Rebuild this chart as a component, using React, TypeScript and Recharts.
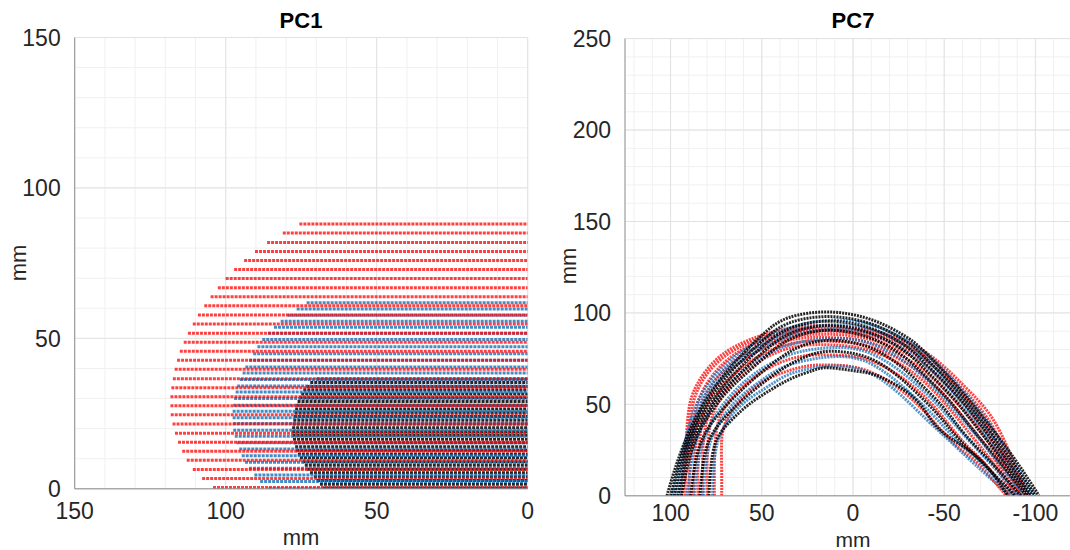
import React from "react";
import { LineChart, Line, XAxis, YAxis, CartesianGrid, ReferenceLine } from "recharts";

// PC1: each row is a slice at height y (mm) running from x = 0 out to its left end (mm)
const pc1RedY = [0.4, 3.4, 6.4, 9.5, 12.5, 15.5, 18.5, 21.5, 24.6, 27.6, 30.6, 33.6, 36.6, 39.7, 42.7, 45.7, 48.7, 51.7, 54.8, 57.8, 60.8, 63.8, 66.8, 69.9, 72.9, 75.9, 78.9, 81.9, 85.0, 88.0];
const pc1RedEnd = [104.2, 107.8, 110.9, 112.9, 114.4, 115.8, 116.8, 117.6, 118.2, 118.3, 118.3, 118.0, 117.5, 116.9, 116.1, 115.2, 113.9, 112.5, 110.9, 109.2, 107.1, 105.0, 102.6, 100.0, 97.2, 93.9, 90.3, 86.3, 81.1, 75.6];

const pc1BlueY = [0, 2.4, 4.6, 6.8, 8.8, 11.0, 13.2, 15.3, 17.5, 19.5, 21.7, 23.6, 25.8, 27.8, 30.0, 32.2, 34.2, 36.3, 38.5, 40.5, 42.7, 44.9, 47.2, 49.6, 51.7, 53.7, 55.7, 57.7, 59.8, 61.8];
const pc1BlueEnd = [85.9, 88.6, 90.5, 92.3, 93.6, 94.7, 95.5, 96.4, 97.0, 97.5, 97.5, 97.7, 97.7, 97.5, 97.2, 96.7, 96.2, 95.3, 94.4, 93.5, 92.2, 90.9, 89.5, 87.9, 85.9, 84.0, 81.8, 79.5, 76.5, 73.2];

const pc1BlackY = [0.3, 1.5, 2.8, 4.0, 5.3, 6.5, 7.8, 9.0, 10.3, 11.5, 12.8, 14.0, 15.3, 16.5, 17.8, 19.0, 20.3, 21.5, 22.8, 24.0, 25.3, 26.5, 27.8, 29.0, 30.3, 31.5, 32.8, 34.0, 35.3, 36.5];
const pc1BlackEnd = [67.7, 68.8, 69.8, 70.8, 72.1, 73.0, 73.8, 74.6, 75.4, 76.1, 76.7, 77.0, 77.4, 77.7, 77.9, 78.0, 78.0, 77.8, 77.6, 77.4, 77.2, 77.0, 76.6, 76.2, 75.6, 75.0, 74.3, 73.3, 72.0, 69.9];

// PC7: arch outlines, outer to inner, [x, y] in mm
const pc7Red: [number, number][][] = [
  [[94, 0], [93, 15], [91.5, 30], [89.5, 50], [83, 65], [72, 77], [55, 86], [33, 92], [12, 93], [-12, 90], [-39, 79], [-60, 61], [-76, 43], [-87, 21], [-96, 0]],
  [[92, 0], [91.5, 15], [90, 30], [88, 49], [81.5, 64.5], [70, 76.5], [53.5, 85], [32.5, 90.5], [12, 91.5], [-11.5, 88.5], [-38, 77.5], [-58.5, 60], [-74, 42], [-85, 21], [-94.5, 0]],
  [[90, 0], [89.5, 15], [88, 30], [86, 48], [79, 63], [68, 75], [52, 84], [32, 89], [12, 90], [-11, 87], [-37, 76], [-57, 59], [-72, 41], [-83, 21], [-93, 0]],
  [[87.5, 0], [87, 15], [86, 30], [84, 47], [76.5, 62], [65.5, 73.5], [50, 82.5], [31, 87.5], [12, 88.3], [-10.5, 85.3], [-35.5, 74], [-55, 57], [-70, 39.5], [-81.5, 20.5], [-92, 0]],
  [[85, 0], [85, 15], [84, 30], [81.5, 46], [74, 61], [63, 72], [48, 81], [30, 86], [12, 86.5], [-10, 83.5], [-34, 72], [-53, 55], [-68, 38], [-80, 20], [-91, 0]],
  [[82.5, 0], [82.5, 15], [82, 30], [79, 45], [72, 59], [61, 70], [46.5, 79], [29.5, 84], [12, 84.5], [-9.5, 81.5], [-33, 70], [-51.5, 53], [-66, 36], [-78, 19.5], [-89.5, 0]],
  [[80, 0], [80, 15], [79.5, 30], [77, 44], [70, 57], [59, 68], [45, 77], [29, 82], [12, 82.5], [-9, 79.5], [-32, 68], [-50, 51], [-64, 34], [-76, 19], [-88, 0]],
  [[76, 0], [76, 15], [75.5, 30], [73, 43], [66, 54], [55, 64], [42, 72], [27, 76.5], [12, 77], [-8, 74.5], [-29, 63], [-46, 47], [-60, 30], [-72, 18], [-86, 0]],
  [[72, 0], [72, 15], [72, 30], [69.5, 41], [62, 52], [51, 61.5], [38, 67.5], [25, 71], [12, 71.5], [-6, 69], [-26, 58], [-42, 43], [-56, 28], [-69, 17], [-84, 0]],
];

const pc7Blue: [number, number][][] = [
  [[99, 0], [96, 15], [92, 30], [87, 47], [78, 63], [65, 76], [49, 86], [31, 93], [12, 96], [-10, 93.5], [-37, 80], [-57, 61], [-72, 43], [-86, 22], [-100, 0]],
  [[97, 0], [94, 15], [90.5, 30], [85.5, 46.5], [76.5, 62], [63.5, 74.5], [47.5, 84], [30.5, 91], [12, 93.5], [-10, 91], [-36, 77.5], [-55.5, 59], [-70, 41.5], [-84, 21], [-98.5, 0]],
  [[95, 0], [92.5, 15], [89, 30], [84, 46], [75, 61], [62, 73], [46, 82.5], [30, 88.5], [12, 91], [-10, 88.5], [-35, 75], [-54, 57], [-68, 40], [-82, 20], [-97, 0]],
  [[91, 0], [89, 15], [86, 30], [80, 44], [71, 58], [58, 70], [44, 79], [29, 84], [12, 86], [-9, 83.5], [-33, 70], [-51, 52], [-65, 36], [-79, 19], [-94, 0]],
  [[87, 0], [85.5, 15], [82, 30], [76, 43], [67, 55], [55, 66], [41, 74.5], [28, 79], [12, 81], [-8, 78.5], [-30, 65], [-48, 48], [-61, 33], [-75, 18], [-91, 0]],
  [[82, 0], [81, 15], [78, 30], [72, 42], [63, 53], [51, 62.5], [39, 70], [26, 74], [12, 76], [-7, 73.5], [-27, 60], [-44, 44], [-57, 30], [-71, 17], [-88, 0]],
  [[77, 0], [76.5, 15], [74, 30], [68, 42], [59, 51.5], [47, 59.5], [36, 66], [24, 69.5], [12, 71], [-6, 68.5], [-24, 57], [-40, 42], [-53, 30], [-67, 17], [-86, 0]],
];

const pc7Black: [number, number][][] = [
  [[102, 0], [97.5, 15], [92, 30], [85, 45], [74, 62], [61, 77], [48, 89.5], [35, 97.5], [13, 100.5], [-11, 96], [-29, 87], [-40, 78], [-57, 60], [-72, 42], [-88, 21], [-102, 0]],
  [[100, 0], [96, 15], [90.7, 30], [83.5, 45], [72.5, 61], [59.5, 75.5], [46.5, 87.5], [33.5, 95], [13, 98], [-10.5, 93.8], [-28.5, 84.8], [-39, 76], [-56, 58.5], [-70.5, 41], [-86, 20.5], [-100, 0]],
  [[98, 0], [94.5, 15], [89.5, 30], [82, 45], [71, 60], [58, 74], [45, 85.5], [32, 92.5], [13, 95.5], [-10, 91.5], [-28, 82.5], [-38, 74], [-55, 57], [-69, 40], [-84, 20], [-98, 0]],
  [[96, 0], [92.7, 15], [88, 30], [80.5, 44.5], [69.5, 59], [56.5, 72], [43.5, 83.3], [31, 90], [13, 93], [-9.5, 89], [-27, 80], [-37, 71.5], [-53.5, 55], [-67, 38.5], [-82, 19.5], [-96.5, 0]],
  [[94, 0], [91, 15], [86.5, 30], [79, 44], [68, 58], [55, 70], [42, 81], [30, 87.5], [13, 90.5], [-9, 86.5], [-26, 77.5], [-36, 69], [-52, 53], [-65, 37], [-80, 19], [-95, 0]],
  [[89, 0], [87, 15], [83, 30], [75, 43], [64, 55], [52, 66], [39, 76], [28, 82], [13, 85], [-8, 81.5], [-24, 72.5], [-34, 64], [-49, 49], [-61, 34], [-77, 17], [-92, 0]],
  [[84, 0], [82.5, 15], [79, 30], [71, 42], [61, 52], [49, 62], [37, 70.5], [26, 76], [13, 79], [-7, 76], [-22, 67.5], [-32, 59], [-46, 45], [-58, 31], [-73, 16], [-89, 0]],
  [[79, 0], [78, 15], [75, 30], [67, 41], [57, 50], [45, 58], [33, 64.5], [22, 68.5], [13, 70], [-3, 68], [-15, 65], [-33, 54], [-44, 40], [-55, 30.5], [-66, 23], [-75, 14], [-85, 0]],
];

// axis ticks (grid every 10, labels every 50)
const pc1Ticks = [0, 10, 20, 30, 40, 50, 60, 70, 80, 90, 100, 110, 120, 130, 140, 150];
const pc1Major = [0, 50, 100, 150];
const pc7XTicks = [-120, -110, -100, -90, -80, -70, -60, -50, -40, -30, -20, -10, 0, 10, 20, 30, 40, 50, 60, 70, 80, 90, 100, 110, 120];
const pc7XMajor = [-100, -50, 0, 50, 100];
const pc7YTicks = [0, 10, 20, 30, 40, 50, 60, 70, 80, 90, 100, 110, 120, 130, 140, 150, 160, 170, 180, 190, 200, 210, 220, 230, 240, 250];
const pc7YMajor = [0, 50, 100, 150, 200, 250];

const RED = "#ff0000";
const BLUE = "#1470b8";
const BLACK = "#000000";

// rows -> one polyline per colour, broken with a null between rows
const rowsToPoints = (ys: number[], ends: number[]) =>
  ys.flatMap((y, i) => [
    { x: ends[i], y },
    { x: 0, y },
    { x: 0, y: null as number | null },
  ]);

const toPoints = (c: [number, number][]) => c.map(([x, y]) => ({ x, y }));

const labelFmt = (v: number) => (v % 50 === 0 ? String(v) : "");

const tickStyle = { fill: "#262626", fontSize: 23, fontFamily: "'Liberation Sans', Arial, sans-serif" };
const textStyle: React.CSSProperties = {
  position: "absolute",
  fontFamily: "'Liberation Sans', Arial, sans-serif",
  fontSize: 22,
  lineHeight: 1,
  color: "#262626",
  transform: "translate(-50%, -50%)",
  whiteSpace: "nowrap",
};

export default function App() {
  return (
    <div style={{ position: "absolute", left: 0, top: 0, width: 1070, height: 550, overflow: "hidden", background: "#fff" }}>
      {/* PC1 */}
      <div style={{ position: "absolute", left: 0, top: 0 }}>
        <LineChart width={540} height={550} margin={{ top: 37.5, right: 12.3, bottom: 31.2, left: 24.7 }}>
          <CartesianGrid stroke="#f0f0f0" />
          <XAxis
            dataKey="x"
            type="number"
            domain={[0, 150]}
            reversed
            ticks={pc1Ticks}
            interval={0}
            tickFormatter={labelFmt}
            tick={tickStyle}
            tickLine={false}
            tickMargin={8}
            axisLine={{ stroke: "#909090" }}
            height={30}
            allowDataOverflow
          />
          <YAxis
            type="number"
            domain={[0, 150]}
            ticks={pc1Ticks}
            interval={0}
            tickFormatter={labelFmt}
            tick={tickStyle}
            tickLine={false}
            tickMargin={8}
            axisLine={{ stroke: "#909090" }}
            width={50}
            allowDataOverflow
          />
          {pc1Major.map((v) => (
            <ReferenceLine key={`vx${v}`} x={v} stroke="#e2e2e2" />
          ))}
          {pc1Major.map((v) => (
            <ReferenceLine key={`hy${v}`} y={v} stroke="#e2e2e2" />
          ))}
          <Line data={rowsToPoints(pc1BlackY, pc1BlackEnd)} dataKey="y" stroke={BLACK} strokeOpacity={0.85} strokeWidth={3} strokeDasharray="3 1" dot={false} activeDot={false} isAnimationActive={false} />
          <Line data={rowsToPoints(pc1BlueY, pc1BlueEnd)} dataKey="y" stroke={BLUE} strokeOpacity={0.8} strokeWidth={3} strokeDasharray="3 1" dot={false} activeDot={false} isAnimationActive={false} />
          <Line data={rowsToPoints(pc1RedY, pc1RedEnd)} dataKey="y" stroke={RED} strokeOpacity={0.75} strokeWidth={3} strokeDasharray="3 1" dot={false} activeDot={false} isAnimationActive={false} />
        </LineChart>
      </div>
      <div style={{ ...textStyle, left: 301, top: 21, fontWeight: "bold", color: "#000" }}>PC1</div>
      <div style={{ ...textStyle, left: 19, top: 263, transform: "translate(-50%, -50%) rotate(-90deg)" }}>mm</div>
      <div style={{ ...textStyle, left: 301, top: 538 }}>mm</div>

      {/* PC7 */}
      <div style={{ position: "absolute", left: 540, top: 0 }}>
        <LineChart width={560} height={550} margin={{ top: 38.6, right: 19, bottom: 24.2, left: 35 }}>
          <CartesianGrid stroke="#f0f0f0" />
          <XAxis
            dataKey="x"
            type="number"
            domain={[-125, 125]}
            reversed
            ticks={pc7XTicks}
            interval={0}
            tickFormatter={labelFmt}
            tick={tickStyle}
            tickLine={false}
            tickMargin={3}
            axisLine={{ stroke: "#909090" }}
            height={30}
            allowDataOverflow
          />
          <YAxis
            type="number"
            domain={[0, 250]}
            ticks={pc7YTicks}
            interval={0}
            tickFormatter={labelFmt}
            tick={tickStyle}
            tickLine={false}
            tickMargin={8}
            axisLine={{ stroke: "#909090" }}
            width={50}
            allowDataOverflow
          />
          {pc7XMajor.map((v) => (
            <ReferenceLine key={`vx${v}`} x={v} stroke="#e2e2e2" />
          ))}
          {pc7YMajor.map((v) => (
            <ReferenceLine key={`hy${v}`} y={v} stroke="#e2e2e2" />
          ))}
          {pc7Red.map((c, i) => (
            <Line key={`r${i}`} data={toPoints(c)} dataKey="y" type="natural" stroke={RED} strokeOpacity={0.75} strokeWidth={3} strokeDasharray="2 1" dot={false} activeDot={false} isAnimationActive={false} />
          ))}
          {pc7Blue.map((c, i) => (
            <Line key={`b${i}`} data={toPoints(c)} dataKey="y" type="natural" stroke={BLUE} strokeOpacity={0.75} strokeWidth={3} strokeDasharray="2 1" dot={false} activeDot={false} isAnimationActive={false} />
          ))}
          {pc7Black.map((c, i) => (
            <Line key={`k${i}`} data={toPoints(c)} dataKey="y" type="natural" stroke={BLACK} strokeOpacity={0.85} strokeWidth={3} strokeDasharray="2 1" dot={false} activeDot={false} isAnimationActive={false} />
          ))}
        </LineChart>
      </div>
      <div style={{ ...textStyle, left: 853, top: 21, fontWeight: "bold", color: "#000" }}>PC7</div>
      <div style={{ ...textStyle, left: 569, top: 266, transform: "translate(-50%, -50%) rotate(-90deg)" }}>mm</div>
      <div style={{ ...textStyle, left: 853, top: 539, fontSize: 21 }}>mm</div>
    </div>
  );
}
